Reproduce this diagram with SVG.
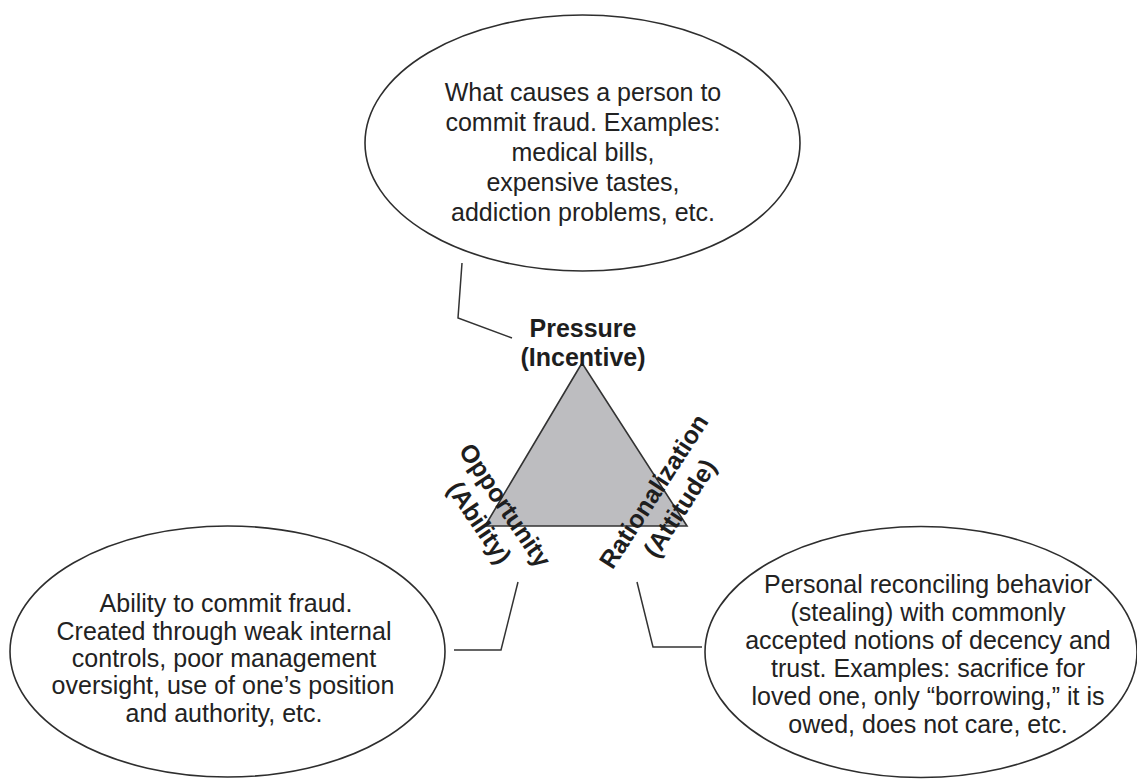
<svg xmlns="http://www.w3.org/2000/svg" width="1137" height="779" viewBox="0 0 1137 779">
  <style>
    .bubble { fill: #ffffff; stroke: #2e2e2e; stroke-width: 1.6; }
    .body { font-family: "Liberation Sans", Arial, sans-serif; font-size: 25px; fill: #222222; text-anchor: middle; }
    .label { font-family: "Liberation Sans", Arial, sans-serif; font-size: 25px; font-weight: bold; fill: #1e1e1e; text-anchor: middle; }
    .leader { fill: none; stroke: #333333; stroke-width: 1.5; }
  </style>
  <rect width="1137" height="779" fill="#ffffff"/>

  <!-- leader lines from each corner label to its explanation bubble -->
  <g id="connectors">
    <polyline class="leader" points="462,263 458,318 512,338"/>
    <polyline class="leader" points="518,582 501,650 454,650"/>
    <polyline class="leader" points="637,582 653,647 702,647"/>
  </g>

  <!-- central fraud triangle -->
  <g id="triangle">
    <polygon points="582,363 485,526 687,526" fill="#bdbdc0" stroke="#333333" stroke-width="1.6" stroke-linejoin="miter"/>
  </g>

  <g id="pressure-label">
    <text class="label" x="583" y="337">Pressure</text>
    <text class="label" x="583" y="366">(Incentive)</text>
  </g>

  <g id="opportunity-label" transform="translate(498 510) rotate(56)">
    <text class="label" x="0" y="0">Opportunity</text>
    <text class="label" x="0" y="31">(Ability)</text>
  </g>

  <g id="rationalization-label" transform="translate(661 496) rotate(-57)">
    <text class="label" x="0" y="0">Rationalization</text>
    <text class="label" x="0" y="31">(Attitude)</text>
  </g>

  <g id="pressure-bubble">
    <ellipse class="bubble" cx="582.5" cy="143" rx="217.5" ry="128"/>
    <text class="body" x="583" y="101">What causes a person to</text>
    <text class="body" x="583" y="131">commit fraud. Examples:</text>
    <text class="body" x="583" y="161">medical bills,</text>
    <text class="body" x="583" y="191">expensive tastes,</text>
    <text class="body" x="583" y="221">addiction problems, etc.</text>
  </g>

  <g id="opportunity-bubble">
    <ellipse class="bubble" cx="227.5" cy="651.5" rx="217.5" ry="125.5"/>
    <text class="body" x="226" y="612">Ability to commit fraud.</text>
    <text class="body" x="224" y="640">Created through weak internal</text>
    <text class="body" x="224" y="667">controls, poor management</text>
    <text class="body" x="223" y="694">oversight, use of one’s position</text>
    <text class="body" x="224" y="722">and authority, etc.</text>
  </g>

  <g id="rationalization-bubble">
    <ellipse class="bubble" cx="921" cy="652" rx="216" ry="125.5"/>
    <text class="body" x="928" y="593">Personal reconciling behavior</text>
    <text class="body" x="928" y="621">(stealing) with commonly</text>
    <text class="body" x="928" y="649">accepted notions of decency and</text>
    <text class="body" x="928" y="677">trust. Examples: sacrifice for</text>
    <text class="body" x="928" y="705">loved one, only “borrowing,” it is</text>
    <text class="body" x="928" y="733">owed, does not care, etc.</text>
  </g>
</svg>
